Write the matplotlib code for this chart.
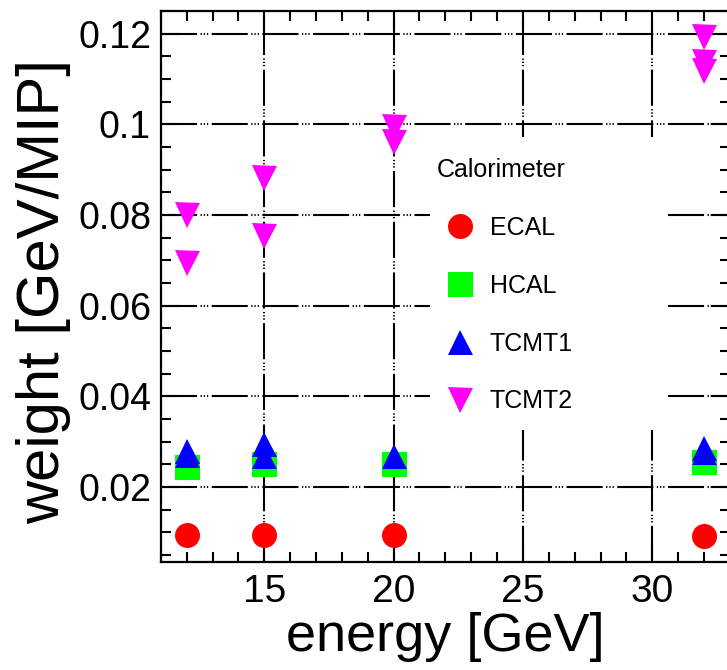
import matplotlib
matplotlib.use("Agg")
import matplotlib.pyplot as plt
from matplotlib.patches import Rectangle
from matplotlib.ticker import MultipleLocator

plt.rcParams['font.family'] = ['Liberation Sans', 'DejaVu Sans']
plt.rcParams['lines.scale_dashes'] = False

# ---- data ----
ecal_x = [12, 15, 20, 32]
ecal_y = [0.0093, 0.0093, 0.0093, 0.0092]
hcal_x = [12, 15, 20, 32]
hcal_y = [0.0245, 0.0251, 0.0250, 0.0255]
tcmt1_x = [12, 12, 15, 15, 20, 32, 32]
tcmt1_y = [0.0280, 0.0270, 0.0294, 0.0268, 0.0269, 0.0287, 0.0278]
tcmt2_x = [12, 12, 15, 15, 20, 20, 32, 32, 32]
tcmt2_y = [0.0800, 0.0694, 0.0881, 0.0754, 0.0993, 0.0960, 0.1193, 0.1138, 0.1118]

series = [
    ("ECAL", ecal_x, ecal_y, 'o', '#ff0000'),
    ("HCAL", hcal_x, hcal_y, 's', '#00ff00'),
    ("TCMT1", tcmt1_x, tcmt1_y, '^', '#0000ff'),
    ("TCMT2", tcmt2_x, tcmt2_y, 'v', '#ff00ff'),
]

xticks = [15, 20, 25, 30]
yticks = [0.02, 0.04, 0.06, 0.08, 0.1, 0.12]
yticklabels = ["0.02", "0.04", "0.06", "0.08", "0.1", "0.12"]

fig = plt.figure(figsize=(7.27, 6.70), dpi=100)
ax = fig.add_axes([0.2212, 0.1616, 0.7828, 0.8220])

ax.set_xlim(11, 33)
ax.set_ylim(0.0035, 0.125)

for name, xs, ys, m, c in series:
    ax.plot(xs, ys, linestyle='none', marker=m, markersize=18,
            color=c, markeredgewidth=0, label=name, zorder=3)

ax.set_xticks(xticks)
ax.set_yticks(yticks)
ax.set_yticklabels(yticklabels)
ax.xaxis.set_minor_locator(MultipleLocator(1))
ax.yaxis.set_minor_locator(MultipleLocator(0.005))

ax.tick_params(which='both', direction='in', top=True, right=True, width=1.5, color='black')
ax.tick_params(which='major', length=14)
ax.tick_params(which='minor', length=7.5)
ax.tick_params(axis='y', which='major', labelsize=27, pad=7)
ax.tick_params(axis='x', which='major', labelsize=28, pad=9)

for s in ax.spines.values():
    s.set_linewidth(1.6)

ax.set_axisbelow(True)
ax.grid(True, which='major', color='black', linewidth=1.5,
        linestyle=(0, (26, 2.5, 0.9, 1.4, 0.9, 1.4, 0.9, 2.5)))

# white legend background (no frame), hides gridlines
ax.add_patch(Rectangle((0.473, 0.239), 0.416, 0.533, transform=ax.transAxes,
                       facecolor='white', edgecolor='none', zorder=1))

leg = ax.legend(loc='upper left', bbox_to_anchor=(0.485, 0.7325), frameon=False,
                title="Calorimeter", alignment='left', fontsize=18,
                title_fontsize=18, labelspacing=1.35, handletextpad=0.28,
                handlelength=1.84, borderpad=0, borderaxespad=0, markerscale=1.0)
leg.set_zorder(4)

ax.set_xlabel("energy [GeV]", fontsize=39, labelpad=1)
ax.set_ylabel("weight [GeV/MIP]", fontsize=43)
ax.yaxis.set_label_coords(-0.158, 0.491)

fig.savefig("out.png", dpi=100)
